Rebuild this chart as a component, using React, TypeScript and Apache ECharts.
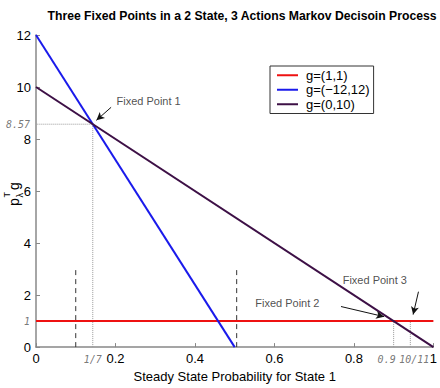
import React, { useEffect, useRef } from "react";
import * as echarts from "echarts";

const titleText = "Three Fixed Points in a 2 State, 3 Actions Markov Decisoin Process";
const xName = "Steady State Probability for State 1";

const seriesNames = ["g=(1,1)", "g=(\u221212,12)", "g=(0,10)"];
const seriesColors = ["#ee1111", "#1a1aeb", "#3d1046"];
const redLine = [[0, 1], [1, 1]];
const blueLine = [[0, 12], [0.5, 0]];
const purpleLine = [[0, 10], [1, 0]];

const dottedFP1 = [[1 / 7, 0], [1 / 7, 8.57], [0, 8.57]];
const dottedFP2 = [[0.9, 0], [0.9, 1]];
const dottedFP3 = [[0.942, 0], [0.942, 1]];
const dashedA = [[0.1, 0], [0.1, 3]];
const dashedB = [[0.505, 0], [0.505, 3]];

const xSpecialTicks = [
  { x: 1 / 7, text: "1/7", align: "center", dx: 0 },
  { x: 0.9, text: "0.9", align: "center", dx: -7 },
  { x: 0.942, text: "10/11", align: "right", dx: 19 },
];
const ySpecialTicks = [
  { y: 1, text: "1" },
  { y: 8.57, text: "8.57" },
];

const annotations = [
  { text: "Fixed Point 1", at: [0.2025, 9.46], align: "left" },
  { text: "Fixed Point 2", at: [0.6325, 1.71], align: "center" },
  { text: "Fixed Point 3", at: [0.8525, 2.58], align: "center" },
];
const arrows = [
  [[0.189, 9.22], [0.152, 8.72]],
  [[0.7675, 1.56], [0.876, 1.17]],
  [[0.9625, 2.13], [0.949, 1.25]],
];

export default function App() {
  const ref = useRef<HTMLDivElement>(null);
  useEffect(() => {
    if (!ref.current) return;
    const chart = echarts.init(ref.current, null, { renderer: "svg" });
    const font = "Liberation Sans";
    const mono = "DejaVu Sans Mono";
    const helperLine = (data: number[][], type: any, color: string) => ({
      type: "line",
      data,
      symbol: "none",
      silent: true,
      z: 1,
      lineStyle: { type, color, width: 1 },
    });
    const labelBase = { show: true, position: "inside", textBorderWidth: 0, textShadowBlur: 0 };
    chart.setOption({
      animation: false,
      textStyle: { fontFamily: font },
      title: {
        text: titleText,
        left: 237,
        top: 5,
        textAlign: "center",
        textStyle: { fontSize: 12.2, fontWeight: "bold", color: "#000", fontFamily: font },
      },
      legend: {
        left: 270,
        top: 66,
        orient: "vertical",
        data: seriesNames.map((n) => ({ name: n, icon: "rect" })),
        itemWidth: 21,
        itemHeight: 2,
        itemGap: 0,
        padding: [2, 4, 2, 7],
        borderColor: "#333",
        borderWidth: 1,
        textStyle: { fontSize: 13, color: "#000", lineHeight: 14.5, padding: [0, 0, 0, 3], fontFamily: font },
      },
      grid: { left: 36, right: 4, top: 35, bottom: 37, containLabel: false },
      xAxis: {
        type: "value",
        min: 0,
        max: 1,
        interval: 0.2,
        name: xName,
        nameLocation: "middle",
        nameGap: 21,
        nameTextStyle: { fontSize: 13, color: "#000", fontFamily: font },
        axisLine: { lineStyle: { color: "#888", width: 1.5 } },
        axisTick: { inside: true, length: 4, lineStyle: { color: "#888" } },
        axisLabel: { fontSize: 13, color: "#000", margin: 5, fontFamily: font },
        splitLine: { show: false },
      },
      yAxis: {
        type: "value",
        min: 0,
        max: 12,
        interval: 2,
        axisLine: { show: true, lineStyle: { color: "#888", width: 1.5 } },
        axisTick: { show: true, inside: true, length: 4, lineStyle: { color: "#888" } },
        axisLabel: { fontSize: 13, color: "#000", margin: 5, fontFamily: font },
        splitLine: { show: false },
      },
      graphic: [
        {
          type: "group",
          x: 14,
          y: 192,
          rotation: Math.PI / 2,
          children: [
            { type: "text", x: -14, y: 0, style: { text: "p", fontSize: 14, fontFamily: font, fill: "#000", verticalAlign: "middle" } },
            { type: "text", x: -5.5, y: -7, style: { text: "T", fontSize: 9, fontFamily: font, fill: "#000", verticalAlign: "middle" } },
            { type: "text", x: -5.5, y: 6, style: { text: "\u03bb", fontSize: 9, fontFamily: font, fill: "#000", verticalAlign: "middle" } },
            { type: "text", x: 2, y: 0, style: { text: "g", fontSize: 14, fontFamily: font, fill: "#000", verticalAlign: "middle" } },
          ],
        },
      ],
      series: [
        helperLine(dottedFP1, "dotted", "#999"),
        helperLine(dottedFP2, "dotted", "#999"),
        helperLine(dottedFP3, "dotted", "#999"),
        helperLine(dashedA, [5, 4], "#333"),
        helperLine(dashedB, [5, 4], "#333"),
        {
          name: seriesNames[0],
          type: "line",
          data: redLine,
          symbol: "none",
          z: 3,
          lineStyle: { color: seriesColors[0], width: 2 },
          itemStyle: { color: seriesColors[0] },
        },
        {
          name: seriesNames[1],
          type: "line",
          data: blueLine,
          symbol: "none",
          z: 3,
          lineStyle: { color: seriesColors[1], width: 2 },
          itemStyle: { color: seriesColors[1] },
        },
        {
          name: seriesNames[2],
          type: "line",
          data: purpleLine,
          symbol: "none",
          z: 4,
          lineStyle: { color: seriesColors[2], width: 2 },
          itemStyle: { color: seriesColors[2] },
          markLine: {
            silent: true,
            symbol: ["none", "arrow"],
            symbolSize: [6, 8],
            label: { show: false },
            lineStyle: { color: "#111", width: 1, type: "solid" },
            data: arrows.map(([a, b]) => [{ coord: a }, { coord: b }]),
          },
        },
        {
          type: "scatter",
          symbolSize: 0,
          silent: true,
          clip: false,
          z: 5,
          itemStyle: { color: "#000" },
          data: [
            ...xSpecialTicks.map((t) => ({
              value: [t.x, 0],
              label: {
                ...labelBase,
                formatter: t.text,
                align: t.align,
                offset: [t.dx, 12],
                fontFamily: mono,
                fontStyle: "italic",
                fontSize: 10,
                color: "#555",
              },
            })),
            ...ySpecialTicks.map((t) => ({
              value: [0, t.y],
              label: {
                ...labelBase,
                formatter: t.text,
                align: "right",
                offset: [-6, 0],
                fontFamily: mono,
                fontStyle: "italic",
                fontSize: 10,
                color: "#555",
              },
            })),
            ...annotations.map((a) => ({
              value: a.at,
              label: {
                ...labelBase,
                formatter: a.text,
                align: a.align,
                fontFamily: font,
                fontSize: 11,
                color: "#222",
              },
            })),
          ],
        },
      ],
    });
    return () => chart.dispose();
  }, []);
  return <div ref={ref} style={{ width: 440, height: 388, position: "absolute", left: 0, top: 0 }} />;
}
